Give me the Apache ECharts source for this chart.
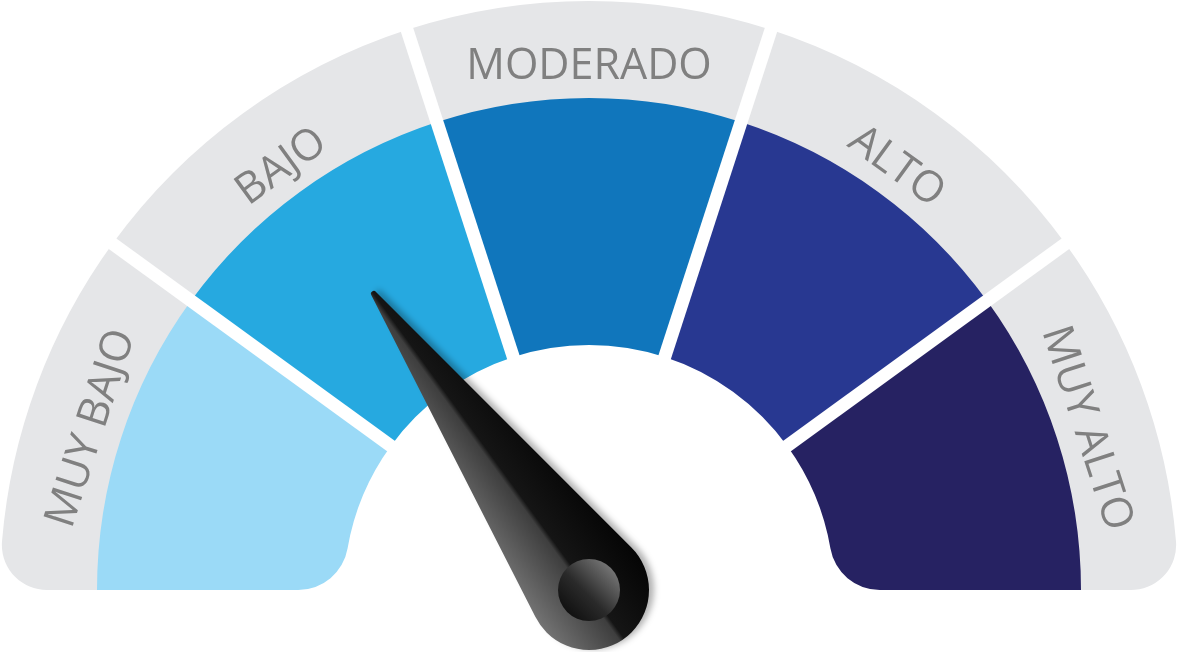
<!DOCTYPE html>
<html>
<head>
<meta charset="utf-8">
<script src="https://cdn.jsdelivr.net/npm/echarts@6/dist/echarts.min.js"></script>
<style>
html,body{margin:0;padding:0;background:#fff;}
#chart{width:1178px;height:652px;}
</style>
</head>
<body>
<div id="chart"></div>
<script>
// ---- data ----
const categories = ['MUY BAJO', 'BAJO', 'MODERADO', 'ALTO', 'MUY ALTO'];
const bandLimits = [0, 20, 40, 60, 80, 100];
const bandColors = ['#9bdaf7', '#26a9e0', '#1076bc', '#283891', '#262262'];
const needleValue = 30;

// ---- build ----
const CX = 589, CY = 590;
const bandValues = categories.map((c, i) => bandLimits[i + 1] - bandLimits[i]);
const last = categories.length - 1;

const greyData = categories.map((name, i) => ({
  name: name,
  value: bandValues[i],
  itemStyle: {
    color: '#e5e6e8',
    borderRadius: i === 0 ? [0, 0, 45, 0] : (i === last ? [0, 0, 0, 45] : 0)
  }
}));
const colorData = categories.map((name, i) => ({
  name: name,
  value: bandValues[i],
  itemStyle: {
    color: bandColors[i],
    borderRadius: i === 0 ? [50, 0, 0, 0] : (i === last ? [0, 50, 0, 0] : 0)
  }
}));

const needlePath = 'path://M57.2 3 A2.8 2.8 0 0 1 62.8 3 L119.2 359.2 A60 60 0 1 1 0.8 359.2 Z';

const chart = echarts.init(document.getElementById('chart'), null, {renderer: 'canvas'});
chart.setOption({
  backgroundColor: '#ffffff',
  animation: false,
  series: [
    {
      type: 'pie',
      z: 1,
      center: [CX, CY],
      radius: [451, 589],
      startAngle: 180,
      endAngle: 0,
      clockwise: true,
      silent: true,
      label: {
        show: true,
        position: 'inside',
        rotate: 'tangential',
        formatter: '{b}',
        color: '#808080',
        fontFamily: 'Open Sans',
        fontSize: 43,
        fontWeight: 'normal'
      },
      labelLine: {show: false},
      emphasis: {disabled: true},
      data: greyData
    },
    {
      type: 'pie',
      z: 2,
      center: [CX, CY],
      radius: [245, 492],
      startAngle: 180,
      endAngle: 0,
      clockwise: true,
      silent: true,
      label: {show: false},
      labelLine: {show: false},
      emphasis: {disabled: true},
      data: colorData
    },
    {
      // white separators between the bands
      type: 'gauge',
      z: 5,
      center: [CX, CY],
      radius: 592,
      startAngle: 180 - 180 * bandLimits[1] / 100,
      endAngle: 180 - 180 * bandLimits[last] / 100,
      min: bandLimits[1],
      max: bandLimits[last],
      splitNumber: categories.length - 2,
      axisLine: {show: false, lineStyle: {width: 1}},
      splitLine: {show: true, length: 370, distance: -3, lineStyle: {color: '#ffffff', width: 13}},
      axisTick: {show: false},
      axisLabel: {show: false},
      pointer: {show: false},
      anchor: {show: false},
      title: {show: false},
      detail: {show: false},
      silent: true,
      data: [{value: bandLimits[1]}]
    },
    {
      type: 'gauge',
      z: 8,
      center: [CX, CY],
      radius: 589,
      startAngle: 180,
      endAngle: 0,
      min: bandLimits[0],
      max: bandLimits[bandLimits.length - 1],
      axisLine: {show: false},
      splitLine: {show: false},
      axisTick: {show: false},
      axisLabel: {show: false},
      title: {show: false},
      detail: {show: false},
      silent: true,
      pointer: {
        show: true,
        icon: needlePath,
        length: 429,
        width: 120,
        offsetCenter: [0, 60],
        itemStyle: {
          color: {
            type: 'linear', x: 0, y: 0, x2: 1, y2: 0,
            colorStops: [
              {offset: 0, color: '#737373'},
              {offset: 0.46, color: '#3e3e3e'},
              {offset: 0.5, color: '#151515'},
              {offset: 1, color: '#050505'}
            ]
          },
          shadowColor: 'rgba(0,0,0,0.3)',
          shadowBlur: 6,
          shadowOffsetX: 5,
          shadowOffsetY: -1
        }
      },
      anchor: {
        show: true,
        showAbove: true,
        size: 62,
        itemStyle: {
          color: {
            type: 'linear', x: 0, y: 1, x2: 1, y2: 0,
            colorStops: [
              {offset: 0, color: '#050505'},
              {offset: 0.45, color: '#2a2a2a'},
              {offset: 1, color: '#8e8e8e'}
            ]
          },
          borderWidth: 0
        }
      },
      data: [{value: needleValue}]
    }
  ]
});
</script>
</body>
</html>
